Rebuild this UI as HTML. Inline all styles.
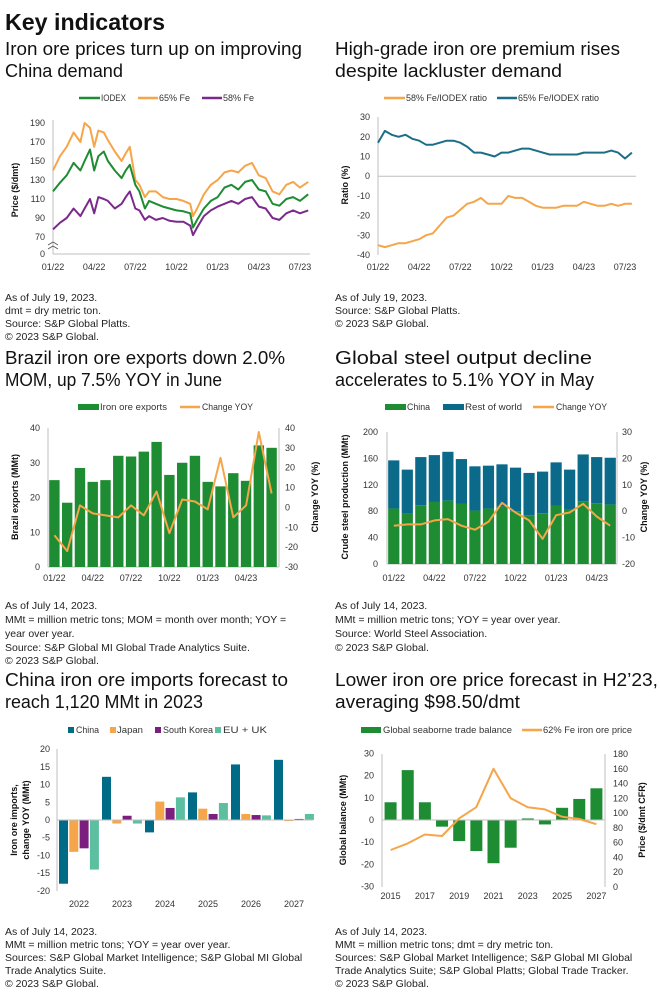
<!DOCTYPE html>
<html><head><meta charset="utf-8"><style>
html,body{margin:0;padding:0;background:#fff;}
svg{display:block;font-family:"Liberation Sans",sans-serif;}
.h{font-size:18px;fill:#111;}
.n{font-size:10.5px;fill:#222;}
.lg{font-size:9.5px;fill:#333;}
.tk{font-size:9px;fill:#333;}
.at{font-size:9px;fill:#111;font-weight:bold;}
</style></head><body>
<svg id="page" width="660" height="999" viewBox="0 0 660 999">
<text x="5" y="30" style="font-size:23px;font-weight:bold;fill:#111" textLength="160" lengthAdjust="spacingAndGlyphs">Key indicators</text>
<g>
<text class="h" x="5" y="55" textLength="297" lengthAdjust="spacingAndGlyphs">Iron ore prices turn up on improving</text>
<text class="h" x="5" y="77" textLength="118" lengthAdjust="spacingAndGlyphs">China demand</text></g>
<g>
<text class="h" x="335" y="55" textLength="285" lengthAdjust="spacingAndGlyphs">High-grade iron ore premium rises</text>
<text class="h" x="335" y="77" textLength="227" lengthAdjust="spacingAndGlyphs">despite lackluster demand</text></g>
<g>
<text class="h" x="5" y="364" textLength="280" lengthAdjust="spacingAndGlyphs">Brazil iron ore exports down 2.0%</text>
<text class="h" x="5" y="386" textLength="217" lengthAdjust="spacingAndGlyphs">MOM, up 7.5% YOY in June</text></g>
<g>
<text class="h" x="335" y="364" textLength="257" lengthAdjust="spacingAndGlyphs">Global steel output decline</text>
<text class="h" x="335" y="386" textLength="259" lengthAdjust="spacingAndGlyphs">accelerates to 5.1% YOY in May</text></g>
<g>
<text class="h" x="5" y="686" textLength="283" lengthAdjust="spacingAndGlyphs">China iron ore imports forecast to</text>
<text class="h" x="5" y="708" textLength="198" lengthAdjust="spacingAndGlyphs">reach 1,120 MMt in 2023</text></g>
<g>
<text class="h" x="335" y="686" textLength="323" lengthAdjust="spacingAndGlyphs">Lower iron ore price forecast in H2’23,</text>
<text class="h" x="335" y="708" textLength="185" lengthAdjust="spacingAndGlyphs">averaging $98.50/dmt</text></g>

<g>
<text class="n" x="5" y="301">As of July 19, 2023.</text>
<text class="n" x="5" y="314">dmt = dry metric ton.</text>
<text class="n" x="5" y="327">Source: S&amp;P Global Platts.</text>
<text class="n" x="5" y="340">© 2023 S&amp;P Global.</text></g>
<g>
<text class="n" x="335" y="301">As of July 19, 2023.</text>
<text class="n" x="335" y="314">Source: S&amp;P Global Platts.</text>
<text class="n" x="335" y="327">© 2023 S&amp;P Global.</text></g>
<g>
<text class="n" x="5" y="609">As of July 14, 2023.</text>
<text class="n" x="5" y="623">MMt = million metric tons; MOM = month over month; YOY =</text>
<text class="n" x="5" y="637">year over year.</text>
<text class="n" x="5" y="651">Source: S&amp;P Global MI Global Trade Analytics Suite.</text>
<text class="n" x="5" y="664">© 2023 S&amp;P Global.</text></g>
<g>
<text class="n" x="335" y="609">As of July 14, 2023.</text>
<text class="n" x="335" y="623">MMt = million metric tons; YOY = year over year.</text>
<text class="n" x="335" y="637">Source: World Steel Association.</text>
<text class="n" x="335" y="651">© 2023 S&amp;P Global.</text></g>
<g>
<text class="n" x="5" y="935">As of July 14, 2023.</text>
<text class="n" x="5" y="948">MMt = million metric tons; YOY = year over year.</text>
<text class="n" x="5" y="961">Sources: S&amp;P Global Market Intelligence; S&amp;P Global MI Global</text>
<text class="n" x="5" y="974">Trade Analytics Suite.</text>
<text class="n" x="5" y="987">© 2023 S&amp;P Global.</text></g>
<g>
<text class="n" x="335" y="935">As of July 14, 2023.</text>
<text class="n" x="335" y="948">MMt = million metric tons; dmt = dry metric ton.</text>
<text class="n" x="335" y="961">Sources: S&amp;P Global Market Intelligence; S&amp;P Global MI Global</text>
<text class="n" x="335" y="974">Trade Analytics Suite; S&amp;P Global Platts; Global Trade Tracker.</text>
<text class="n" x="335" y="987">© 2023 S&amp;P Global.</text></g>

<!-- legends -->
<g>
<g><line x1="79" y1="98" x2="100" y2="98" stroke="#1e8c32" stroke-width="2.5"/><text class="lg" x="101" y="101" textLength="25" lengthAdjust="spacingAndGlyphs">IODEX</text></g>
<g><line x1="138" y1="98" x2="158" y2="98" stroke="#f5a54a" stroke-width="2.5"/><text class="lg" x="159" y="101" textLength="31" lengthAdjust="spacingAndGlyphs">65% Fe</text></g>
<g><line x1="202" y1="98" x2="222" y2="98" stroke="#7b2a8c" stroke-width="2.5"/><text class="lg" x="223" y="101" textLength="31" lengthAdjust="spacingAndGlyphs">58% Fe</text></g></g>
<g>
<g><line x1="384" y1="98" x2="405" y2="98" stroke="#f5a54a" stroke-width="2.5"/><text class="lg" x="406" y="101" textLength="81" lengthAdjust="spacingAndGlyphs">58% Fe/IODEX ratio</text></g>
<g><line x1="497" y1="98" x2="517" y2="98" stroke="#1c6e86" stroke-width="2.5"/><text class="lg" x="518" y="101" textLength="81" lengthAdjust="spacingAndGlyphs">65% Fe/IODEX ratio</text></g></g>
<g>
<g><rect x="78" y="404" width="21" height="6" fill="#1e8c32"/><text class="lg" x="100" y="410" textLength="67" lengthAdjust="spacingAndGlyphs">Iron ore exports</text></g>
<g><line x1="180" y1="407" x2="200" y2="407" stroke="#f5a54a" stroke-width="2.5"/><text class="lg" x="202" y="410" textLength="51" lengthAdjust="spacingAndGlyphs">Change YOY</text></g></g>
<g>
<g><rect x="385" y="404" width="21" height="6" fill="#1e8c32"/><text class="lg" x="407" y="410" textLength="23" lengthAdjust="spacingAndGlyphs">China</text></g>
<g><rect x="443" y="404" width="21" height="6" fill="#0b6a8a"/><text class="lg" x="465" y="410" textLength="57" lengthAdjust="spacingAndGlyphs">Rest of world</text></g>
<g><line x1="533" y1="407" x2="554" y2="407" stroke="#f5a54a" stroke-width="2.5"/><text class="lg" x="556" y="410" textLength="51" lengthAdjust="spacingAndGlyphs">Change YOY</text></g></g>
<g>
<g><rect x="68" y="727" width="6" height="6" fill="#006b87"/><text class="lg" x="76" y="733" textLength="23" lengthAdjust="spacingAndGlyphs">China</text></g>
<g><rect x="110" y="727" width="6" height="6" fill="#f5a54a"/><text class="lg" x="117" y="733" textLength="26" lengthAdjust="spacingAndGlyphs">Japan</text></g>
<g><rect x="155" y="727" width="6" height="6" fill="#7a1f7f"/><text class="lg" x="163" y="733" textLength="50" lengthAdjust="spacingAndGlyphs">South Korea</text></g>
<g><rect x="215" y="727" width="6" height="6" fill="#5bbfa0"/><text class="lg" x="223" y="733" textLength="44" lengthAdjust="spacingAndGlyphs">EU + UK</text></g></g>
<g>
<g><rect x="361" y="727" width="20" height="6" fill="#1e8c32"/><text class="lg" x="383" y="733" textLength="129" lengthAdjust="spacingAndGlyphs">Global seaborne trade balance</text></g>
<g><line x1="522" y1="730" x2="542" y2="730" stroke="#f5a54a" stroke-width="2.5"/><text class="lg" x="543" y="733" textLength="89" lengthAdjust="spacingAndGlyphs">62% Fe iron ore price</text></g></g>

<g>
<text class="at" transform="translate(18,190) rotate(-90)" text-anchor="middle">Price ($/dmt)</text>
<text class="at" transform="translate(348,185) rotate(-90)" text-anchor="middle">Ratio (%)</text>
<text class="at" transform="translate(18,497) rotate(-90)" text-anchor="middle">Brazil exports (MMt)</text>
<text class="at" transform="translate(318,497) rotate(-90)" text-anchor="middle">Change YOY (%)</text>
<text class="at" transform="translate(348,497) rotate(-90)" text-anchor="middle">Crude steel production (MMt)</text>
<text class="at" transform="translate(647,497) rotate(-90)" text-anchor="middle">Change YOY (%)</text>
<text class="at" transform="translate(17,820) rotate(-90)" text-anchor="middle">Iron ore imports,</text>
<text class="at" transform="translate(29,820) rotate(-90)" text-anchor="middle">change YOY (MMt)</text>
<text class="at" transform="translate(346,820) rotate(-90)" text-anchor="middle">Global balance (MMt)</text>
<text class="at" transform="translate(645,820) rotate(-90)" text-anchor="middle">Price ($/dmt CFR)</text>
</g>
<g id="charts"></g>
</svg>
<script>
// ---- Chart 1 data ----
const c1Months = [0,0.5,1,1.5,2,2.3,2.7,3,3.3,3.7,4,4.5,5,5.3,5.6,6,6.3,6.7,7,7.5,8,8.5,9,9.5,10,10.2,10.5,11,11.5,12,12.5,13,13.5,14,14.5,15,15.5,16,16.5,17,17.5,18,18.6];
const c1Iodex = [118,127,135,148,140,150,162,140,155,160,150,140,132,140,146,125,118,100,108,105,102,100,98,97,95,80,88,100,108,112,122,125,120,128,130,120,118,105,103,110,112,108,115];
const c1Fe65 = [140,155,165,180,170,190,185,165,182,180,172,160,150,158,165,130,125,112,118,118,112,110,110,108,105,92,100,115,125,130,138,140,138,145,148,135,132,118,115,125,128,122,128];
const c1Fe58 = [78,85,90,100,92,100,110,95,112,110,108,100,105,112,118,100,98,88,92,88,90,87,86,86,82,72,80,92,98,102,105,108,105,110,112,102,100,90,88,95,98,95,98];
const c1Ticks = [70,90,110,130,150,170,190];
const dateLabels = ["01/22","04/22","07/22","10/22","01/23","04/23","07/23"];
// ---- Chart 2 data ----
const c2Months = [0,0.5,1,1.5,2,2.5,3,3.5,4,4.5,5,5.5,6,6.5,7,7.5,8,8.5,9,9.5,10,10.5,11,11.5,12,12.5,13,13.5,14,14.5,15,15.5,16,16.5,17,17.5,18,18.5];
const c2Ratio65 = [17,23,21,20,21,19,18,16,16,17,18,18,17,15,12,12,11,10,12,12,13,14,14,13,12,11,11,11,11,11,12,12,12,12,13,12,9,12];
const c2Ratio58 = [-35,-36,-35,-34,-34,-33,-32,-30,-29,-25,-21,-20,-17,-14,-13,-11,-14,-14,-14,-10,-11,-11,-13,-15,-16,-16,-16,-15,-15,-15,-13,-14,-15,-15,-14,-15,-14,-14];
const c2Ticks = [-40,-30,-20,-10,0,10,20,30];
// ---- Chart 3 data ----
const c3Exports = [25,18.5,28.5,24.5,25,32,31.8,33.2,36,26.5,30,32,24.5,23.2,27,24.8,35,34.3];
const c3Yoy = [-14,-22,1,-3,-4,-5,1,-4,8,-13,4,3,-1,25,-5,1,38,7];
const c3Labels = ["01/22","","","04/22","","","07/22","","","10/22","","","01/23","","","04/23","",""];
const c3LeftTicks = [0,10,20,30,40];
const c3RightTicks = [-30,-20,-10,0,10,20,30,40];
// ---- Chart 4 data ----
const c4China = [84,76,89,94,96,91,81,84,87,80,74,77,88,82,95,92,90];
const c4Total = [157,143,162,165,170,159,148,149,151,146,138,140,154,143,166,162,161];
const c4Yoy = [-5.5,-5,-5,-3.5,-3,-5.5,-7,-4,3.2,-0.5,-3.5,-10.5,-1.5,-0.5,2.8,-2,-5.5];
const c4Labels = ["01/22","","","04/22","","","07/22","","","10/22","","","01/23","","","04/23",""];
const c4LeftTicks = [0,40,80,120,160,200];
const c4RightTicks = [-20,-10,0,10,20,30];
// ---- Chart 5 data ----
const c5Years = ["2022","2023","2024","2025","2026","2027"];
const c5China = [-18,12.2,-3.5,7.8,15.7,17];
const c5Japan = [-9,-1,5.2,3.2,1.7,-0.3];
const c5Korea = [-8,1.2,3.4,1.7,1.4,0.3];
const c5Eu = [-14,-1,6.4,4.8,1.3,1.7];
const c5Ticks = [-20,-15,-10,-5,0,5,10,15,20];
// ---- Chart 6 data ----
const c6Years = ["2015","2016","2017","2018","2019","2020","2021","2022","2023","2024","2025","2026","2027"];
const c6Balance = [8,22.5,8,-3,-9.5,-14,-19.5,-12.5,0.7,-2,5.5,9.5,14.3];
const c6Price = [50,59,71,69,93,108,160,120,108,105,95,92,85];
const c6LeftTicks = [-30,-20,-10,0,10,20,30];
const c6RightTicks = [0,20,40,60,80,100,120,140,160,180];

const NS = "http://www.w3.org/2000/svg";
const root = document.getElementById('charts');
function mk(parent, tag, attrs, name, inter) {
  const el = document.createElementNS(NS, tag);
  for (const k in attrs) el.setAttribute(k, attrs[k]);
  
  
  parent.appendChild(el);
  return el;
}
function txt(parent, x, y, s, anchor, name) {
  const t = mk(parent, 'text', {x:x, y:y, 'class':'tk', 'text-anchor':anchor}, name, false);
  t.textContent = s;
  return t;
}
function poly(parent, xs, ys, color, w, name) {
  let d = '';
  for (let i = 0; i < xs.length; i++) d += (i ? 'L' : 'M') + xs[i].toFixed(1) + ',' + ys[i].toFixed(1);
  return mk(parent, 'path', {d:d, fill:'none', stroke:color, 'stroke-width':w, 'stroke-linejoin':'round'}, name, false);
}
const GRAY = '#bfbfbf';

// ===== Chart 1 =====
(function(){
  const g = mk(root, 'g', {}, 'chart1-price-lines', false);
  const x = m => 53 + m * (247/18);
  const y = v => 237 - (v - 70) * 0.95;
  mk(g, 'line', {x1:53,y1:120,x2:53,y2:254,stroke:GRAY}, 'y-axis-line', false);
  mk(g, 'line', {x1:53,y1:254,x2:310,y2:254,stroke:GRAY}, 'x-axis-line', false);
  mk(g, 'path', {d:'M48,245 l5,-3 l5,3 M48,249 l5,-3 l5,3', fill:'none', stroke:'#555', 'stroke-width':0.8}, 'axis-break', false);
  c1Ticks.forEach(v => txt(g, 45, y(v)+3, String(v), 'end', 'y-tick-label'));
  txt(g, 45, 257, '0', 'end', 'y-tick-label');
  dateLabels.forEach((s,i) => txt(g, x(i*3), 270, s, 'middle', 'x-tick-label'));
  const xs = c1Months.map(x);
  poly(g, xs, c1Fe65.map(y), '#f5a54a', 2, 'line-65-fe');
  poly(g, xs, c1Iodex.map(y), '#1e8c32', 2, 'line-iodex');
  poly(g, xs, c1Fe58.map(y), '#7b2a8c', 2, 'line-58-fe');
})();

// ===== Chart 2 =====
(function(){
  const g = mk(root, 'g', {}, 'chart2-ratio-lines', false);
  const x = m => 378 + m * (247/18);
  const y = v => 255 - (v + 40) * 1.97;
  mk(g, 'line', {x1:378,y1:117,x2:378,y2:255,stroke:GRAY}, 'y-axis-line', false);
  mk(g, 'line', {x1:378,y1:y(0),x2:636,y2:y(0),stroke:GRAY}, 'zero-line', false);
  c2Ticks.forEach(v => txt(g, 370, y(v)+3, String(v), 'end', 'y-tick-label'));
  dateLabels.forEach((s,i) => txt(g, x(i*3), 270, s, 'middle', 'x-tick-label'));
  const xs = c2Months.map(x);
  poly(g, xs, c2Ratio65.map(y), '#1c6e86', 2, 'line-65-ratio');
  poly(g, xs, c2Ratio58.map(y), '#f5a54a', 2, 'line-58-ratio');
})();

// ===== Chart 3 =====
(function(){
  const g = mk(root, 'g', {}, 'chart3-brazil-exports', false);
  const slot = 230/18;
  const xc = i => 48 + slot*(i+0.5);
  const y = v => 567 - v * 3.475;
  const yr = v => 567 - (v + 30) * 1.986;
  mk(g, 'line', {x1:48,y1:428,x2:48,y2:567,stroke:GRAY}, 'left-axis-line', false);
  mk(g, 'line', {x1:279,y1:428,x2:279,y2:567,stroke:GRAY}, 'right-axis-line', false);
  mk(g, 'line', {x1:48,y1:567,x2:279,y2:567,stroke:GRAY}, 'x-axis-line', false);
  c3LeftTicks.forEach(v => txt(g, 40, y(v)+3, String(v), 'end', 'left-tick-label'));
  c3RightTicks.forEach(v => txt(g, 285, yr(v)+3, String(v), 'start', 'right-tick-label'));
  c3Exports.forEach((v,i) => mk(g, 'rect', {x:xc(i)-5.2, y:y(v), width:10.4, height:567-y(v), fill:'#1e8c32'}, 'bar-exports', true));
  c3Labels.forEach((s,i) => { if (s) txt(g, xc(i), 581, s, 'middle', 'x-tick-label'); });
  poly(g, c3Yoy.map((v,i)=>xc(i)), c3Yoy.map(yr), '#f5a54a', 2, 'line-change-yoy');
})();

// ===== Chart 4 =====
(function(){
  const g = mk(root, 'g', {}, 'chart4-steel-output', false);
  const slot = 230/17;
  const xc = i => 387 + slot*(i+0.5);
  const y = v => 564 - v * 0.66;
  const yr = v => 564 - (v + 20) * 2.64;
  mk(g, 'line', {x1:387,y1:432,x2:387,y2:564,stroke:GRAY}, 'left-axis-line', false);
  mk(g, 'line', {x1:617,y1:432,x2:617,y2:564,stroke:GRAY}, 'right-axis-line', false);
  mk(g, 'line', {x1:387,y1:564,x2:617,y2:564,stroke:GRAY}, 'x-axis-line', false);
  c4LeftTicks.forEach(v => txt(g, 378, y(v)+3, String(v), 'end', 'left-tick-label'));
  c4RightTicks.forEach(v => txt(g, 622, yr(v)+3, String(v), 'start', 'right-tick-label'));
  c4Total.forEach((v,i) => mk(g, 'rect', {x:xc(i)-5.6, y:y(v), width:11.2, height:y(c4China[i])-y(v), fill:'#0b6a8a'}, 'bar-rest-of-world', true));
  c4China.forEach((v,i) => mk(g, 'rect', {x:xc(i)-5.6, y:y(v), width:11.2, height:564-y(v), fill:'#1e8c32'}, 'bar-china', true));
  c4Labels.forEach((s,i) => { if (s) txt(g, xc(i), 581, s, 'middle', 'x-tick-label'); });
  poly(g, c4Yoy.map((v,i)=>xc(i)), c4Yoy.map(yr), '#f5a54a', 2, 'line-change-yoy');
})();

// ===== Chart 5 =====
(function(){
  const g = mk(root, 'g', {}, 'chart5-import-forecast', false);
  const gw = 43;
  const y = v => 820 - v * 3.54;
  mk(g, 'line', {x1:57,y1:749,x2:57,y2:891,stroke:GRAY}, 'y-axis-line', false);
  c5Ticks.forEach(v => txt(g, 50, y(v)+3, String(v), 'end', 'y-tick-label'));
  const series = [[c5China,'#006b87','bar-china'],[c5Japan,'#f5a54a','bar-japan'],[c5Korea,'#7a1f7f','bar-south-korea'],[c5Eu,'#5bbfa0','bar-eu-uk']];
  c5Years.forEach((yr,i) => {
    series.forEach((s,k) => {
      const v = s[0][i];
      const x0 = 57 + i*gw + 2 + k*10.3;
      mk(g, 'rect', {x:x0, y:Math.min(y(v),y(0)), width:9, height:Math.abs(y(v)-y(0)), fill:s[1]}, s[2], true);
    });
    txt(g, 57 + i*gw + 22, 907, yr, 'middle', 'x-tick-label');
  });
  mk(g, 'line', {x1:57,y1:820,x2:313,y2:820,stroke:GRAY}, 'zero-line', false);
})();

// ===== Chart 6 =====
(function(){
  const g = mk(root, 'g', {}, 'chart6-price-forecast', false);
  const slot = 223/13;
  const xc = i => 382 + slot*(i+0.5);
  const y = v => 820 - v * 2.217;
  const yr = v => 887 - v * 0.739;
  mk(g, 'line', {x1:382,y1:754,x2:382,y2:887,stroke:GRAY}, 'left-axis-line', false);
  mk(g, 'line', {x1:605,y1:754,x2:605,y2:887,stroke:GRAY}, 'right-axis-line', false);
  c6LeftTicks.forEach(v => txt(g, 374, y(v)+3, String(v), 'end', 'left-tick-label'));
  c6RightTicks.forEach(v => txt(g, 613, yr(v)+3, String(v), 'start', 'right-tick-label'));
  c6Balance.forEach((v,i) => mk(g, 'rect', {x:xc(i)-6, y:Math.min(y(v),y(0)), width:12, height:Math.abs(y(v)-y(0)), fill:'#1e8c32'}, 'bar-trade-balance', true));
  mk(g, 'line', {x1:382,y1:820,x2:605,y2:820,stroke:GRAY}, 'zero-line', false);
  c6Years.forEach((s,i) => { if (i % 2 === 0) txt(g, xc(i), 899, s, 'middle', 'x-tick-label'); });
  poly(g, c6Price.map((v,i)=>xc(i)), c6Price.map(yr), '#f5a54a', 2, 'line-62-fe-price');
})();
</script>
</body></html>
